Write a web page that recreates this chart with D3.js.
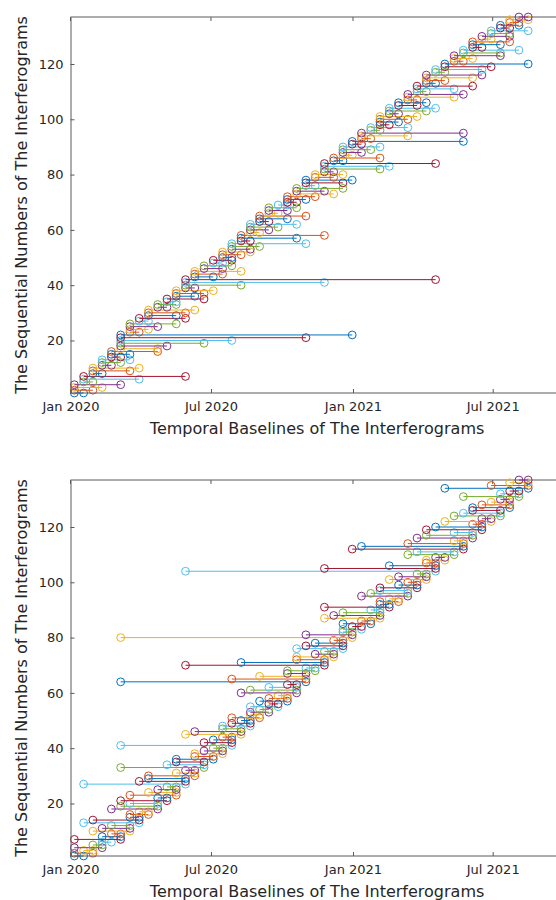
<!DOCTYPE html>
<html>
<head>
<script src="https://cdnjs.cloudflare.com/ajax/libs/d3/7.8.5/d3.min.js"></script>
<style>
  body { margin: 0; background: #fff; }
  svg text { font-family: "DejaVu Sans", sans-serif; fill: #262626; }
</style>
</head>
<body>
<script>
// SAR acquisition dates (12-day repeat)
var dates = ["2020-01-06","2020-01-18","2020-01-30","2020-02-11","2020-02-23","2020-03-06","2020-03-18","2020-03-30",
  "2020-04-11","2020-04-23","2020-05-05","2020-05-17","2020-05-29","2020-06-10","2020-06-22","2020-07-04",
  "2020-07-16","2020-07-28","2020-08-09","2020-08-21","2020-09-02","2020-09-14","2020-09-26","2020-10-08",
  "2020-10-20","2020-11-01","2020-11-13","2020-11-25","2020-12-07","2020-12-19","2020-12-31","2021-01-12",
  "2021-01-24","2021-02-05","2021-02-17","2021-03-01","2021-03-13","2021-03-25","2021-04-06","2021-04-18",
  "2021-04-30","2021-05-12","2021-05-24","2021-06-05","2021-06-17","2021-06-29","2021-07-11","2021-07-23",
  "2021-08-04","2021-08-16"];

// interferogram pairs, as indices into dates (ordered by master date)
var masterIdx = [0,0,0,0,1,1,1,2,2,2, 3,3,3,4,4,4,5,5,5,5, 5,5,6,6,6,6,7,7,8,8,
  8,9,9,10,10,11,11,11,12,12, 12,12,13,13,13,14,14,15,15,16, 16,16,17,17,17,18,18,18,19,19,
  19,19,20,20,20,21,21,21,22,23, 23,23,24,24,24,25,25,25,26,26, 27,27,27,27,28,28,29,29,29,29,
  30,30,31,31,31,32,32,33,33,33, 33,34,34,34,35,35,36,36,36,37, 37,37,38,38,38,38,39,39,40,40,
  41,41,41,42,42,43,43,43,44,44, 45,45,46,46,47,47,48];
var slaveIdx = [1,2,3,5,2,7,12,3,6,7, 4,5,6,5,6,9,9,10,14,17, 25,30,7,8,9,11,8,12,11,12,
  13,10,11,11,14,13,14,15,13,18, 27,39,15,16,18,16,17,16,17,17, 18,19,19,20,25,19,24,27,20,21,
  22,24,21,23,25,22,23,24,23,24, 25,26,28,27,29,26,29,30,28,29, 28,33,34,39,29,33,30,31,32,33,
  31,42,32,36,42,33,36,34,35,36, 37,35,38,39,37,38,37,41,42,38, 41,43,39,40,43,44,40,44,45,49,
  42,43,46,46,48,44,46,47,45,47, 47,49,47,48,48,49,49];

var yTicks = [20, 40, 60, 80, 100, 120];
var xTicks = ["2020-01-01", "2020-07-01", "2021-01-01", "2021-07-01"];
var colors = ["#0072BD", "#D95319", "#EDB120", "#7E2F8E", "#77AC30", "#4DBEEE", "#A2142F"];

var parse = d3.utcParse("%Y-%m-%d");
var n = masterIdx.length;

var svg = d3.select("body").append("svg")
  .attr("width", 556)
  .attr("height", 900);

var x = d3.scaleUtc()
  .domain([parse("2020-01-01"), parse("2021-07-01")])
  .range([70.5, 492.7]);
var xEnd = x(parse("2021-10-01"));

// panel 1: sorted by master date, panel 2: sorted by slave date
var order1 = d3.range(n);
var order2 = d3.range(n).sort(function(a, b) {
  return slaveIdx[a] - slaveIdx[b] || masterIdx[a] - masterIdx[b];
});

function drawPanel(top, order) {
  var bottom = top + 376;
  var y = d3.scaleLinear().domain([1, n]).range([bottom, top]);
  var g = svg.append("g");

  // box (top edge) and top ticks
  g.append("line").attr("x1", 70.5).attr("x2", xEnd).attr("y1", top).attr("y2", top)
    .attr("stroke", "#5a5a5a").attr("stroke-width", 1);
  xTicks.forEach(function(t) {
    g.append("line").attr("x1", x(parse(t))).attr("x2", x(parse(t)))
      .attr("y1", top).attr("y2", top + 4).attr("stroke", "#5a5a5a");
  });

  var ig = g.selectAll("g.ifg")
    .data(order)
    .enter().append("g")
    .attr("class", "ifg");

  ig.each(function(p, i) {
    var c = colors[i % 7];
    var x1 = x(parse(dates[masterIdx[p]])),
        x2 = x(parse(dates[slaveIdx[p]])),
        yy = y(i + 1);
    var s = d3.select(this);
    s.append("line").attr("x1", x1).attr("x2", x2).attr("y1", yy).attr("y2", yy)
      .attr("stroke", c).attr("stroke-width", 1);
    [x1, x2].forEach(function(cx) {
      s.append("circle").attr("cx", cx).attr("cy", yy).attr("r", 3.9)
        .attr("fill", "none").attr("stroke", c).attr("stroke-width", 1);
    });
  });

  var xAxis = d3.axisBottom(x)
    .tickValues(xTicks.map(parse))
    .tickFormat(d3.utcFormat("%b %Y"))
    .tickSizeInner(-4).tickSizeOuter(0).tickPadding(9);
  var ax = g.append("g").attr("transform", "translate(0," + bottom + ")").call(xAxis);
  ax.select(".domain").attr("d", "M70.5,0H" + xEnd).attr("stroke", "#5a5a5a");
  ax.selectAll(".tick line").attr("stroke", "#5a5a5a");
  ax.selectAll("text").style("font-size", "13px").attr("fill", "#262626");

  var yAxis = d3.axisLeft(y)
    .tickValues(yTicks)
    .tickSizeInner(-4).tickSizeOuter(0).tickPadding(7);
  var ay = g.append("g").attr("transform", "translate(70.5,0)").call(yAxis);
  ay.select(".domain").attr("stroke", "#5a5a5a");
  ay.selectAll(".tick line").attr("stroke", "#5a5a5a");
  ay.selectAll("text").style("font-size", "13px").attr("fill", "#262626");

  g.append("text")
    .attr("x", (70.5 + xEnd) / 2).attr("y", bottom + 41)
    .attr("text-anchor", "middle")
    .style("font-size", "16px")
    .text("Temporal Baselines of The Interferograms");

  g.append("text")
    .attr("transform", "translate(27," + (top + bottom) / 2 + ") rotate(-90)")
    .attr("text-anchor", "middle")
    .style("font-size", "16px")
    .text("The Sequential Numbers of The Interferograms");
}

drawPanel(17, order1);
drawPanel(480, order2);
</script>
</body>
</html>
